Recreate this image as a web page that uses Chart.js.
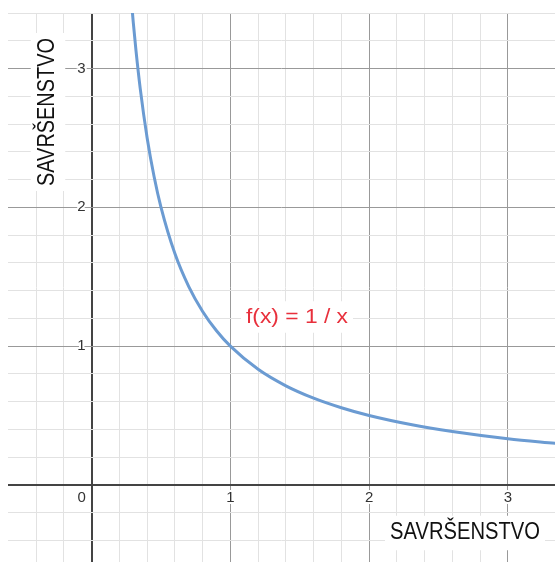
<!DOCTYPE html>
<html>
<head>
<meta charset="utf-8">
<script src="https://cdn.jsdelivr.net/npm/chart.js@4.4.1/dist/chart.umd.min.js"></script>
<style>
  html, body { margin: 0; padding: 0; background: #fff; }
  canvas { display: block; }
</style>
</head>
<body>
<canvas id="recipChart" width="555" height="562"></canvas>
<script>
// points
const curveX = [0.29, 0.3, 0.32, 0.35, 0.4, 0.45, 0.5, 0.6, 0.7, 0.8, 0.9, 1, 1.2, 1.4, 1.6, 1.8, 2, 2.3, 2.6, 3, 3.35];
const curveY = [3.448, 3.333, 3.125, 2.857, 2.5, 2.222, 2, 1.667, 1.429, 1.25, 1.111, 1, 0.833, 0.714, 0.625, 0.556, 0.5, 0.435, 0.385, 0.333, 0.299];

const xTickLabels = [1, 2, 3];
const yTickLabels = [1, 2, 3];
const axisTitle = "SAVRŠENSTVO";
const curveLabel = "f(x) = 1 / x";

const isStep = (v) => Math.abs(v / 0.2 - Math.round(v / 0.2)) < 1e-6;
const isMajor = (v) => Math.abs(v - Math.round(v)) < 1e-6;

const gridColor = (ctx) => {
  const v = ctx.tick.value;
  if (!isStep(v)) return "rgba(0,0,0,0)";
  if (Math.abs(v) < 1e-6) return "#444";
  return isMajor(v) ? "#999" : "#e2e2e2";
};
const gridWidth = (ctx) => (Math.abs(ctx.tick.value) < 1e-6 ? 2 : 1);

// draws text squeezed/stretched to a given width, on a white box
function boxedText(c, text, cx, cy, width, size, color, rotate) {
  c.save();
  c.translate(cx, cy);
  if (rotate) c.rotate(-Math.PI / 2);
  c.font = size + "px 'Liberation Sans', Arial, sans-serif";
  const w = c.measureText(text).width;
  c.fillStyle = "#fff";
  c.fillRect(-width / 2 - 5, -size * 0.75, width + 10, size * 1.5);
  c.scale(width / w, 1);
  c.fillStyle = color;
  c.textAlign = "center";
  c.textBaseline = "middle";
  c.fillText(text, 0, 0);
  c.restore();
}

const labelsPlugin = {
  id: "labels",
  afterDraw(chart) {
    const c = chart.ctx;
    const xs = chart.scales.x, ys = chart.scales.y;
    const x0 = xs.getPixelForValue(0), y0 = ys.getPixelForValue(0);

    c.save();
    c.font = "15px 'Liberation Sans', Arial, sans-serif";
    c.lineWidth = 4;
    c.strokeStyle = "#fff";
    c.fillStyle = "#333";
    c.lineJoin = "round";

    c.textAlign = "center";
    c.textBaseline = "middle";
    xTickLabels.forEach((v) => {
      const px = xs.getPixelForValue(v);
      c.strokeText(String(v), px, y0 + 13);
      c.fillText(String(v), px, y0 + 13);
    });
    c.strokeText("0", x0 - 10, y0 + 13);
    c.fillText("0", x0 - 10, y0 + 13);

    c.textAlign = "right";
    yTickLabels.forEach((v) => {
      const py = ys.getPixelForValue(v);
      c.strokeText(String(v), x0 - 6, py);
      c.fillText(String(v), x0 - 6, py);
    });
    c.restore();

    boxedText(c, axisTitle, 465, 533, 150, 23, "#111", false);
    boxedText(c, axisTitle, 48, 112, 148, 23, "#111", true);
    boxedText(c, curveLabel, 297, 317, 102, 21, "#e8303c", false);
  }
};

new Chart(document.getElementById("recipChart"), {
  type: "line",
  data: {
    datasets: [
      {
        data: curveX.map((x, i) => ({ x: x, y: curveY[i] })),
        borderColor: "#6b9bd2",
        borderWidth: 3,
        pointRadius: 0,
        cubicInterpolationMode: "monotone",
        fill: false
      }
    ]
  },
  options: {
    responsive: false,
    animation: false,
    layout: { padding: { left: 8, top: 13, right: 0, bottom: 0 } },
    plugins: { legend: { display: false }, tooltip: { enabled: false } },
    scales: {
      x: {
        type: "linear",
        min: -0.603,
        max: 3.34,
        ticks: { display: false, stepSize: 0.2 },
        border: { display: false },
        grid: { drawTicks: false, color: gridColor, lineWidth: gridWidth }
      },
      y: {
        type: "linear",
        min: -0.555,
        max: 3.4,
        ticks: { display: false, stepSize: 0.2 },
        border: { display: false },
        grid: { drawTicks: false, color: gridColor, lineWidth: gridWidth }
      }
    }
  },
  plugins: [labelsPlugin]
});
</script>
</body>
</html>
